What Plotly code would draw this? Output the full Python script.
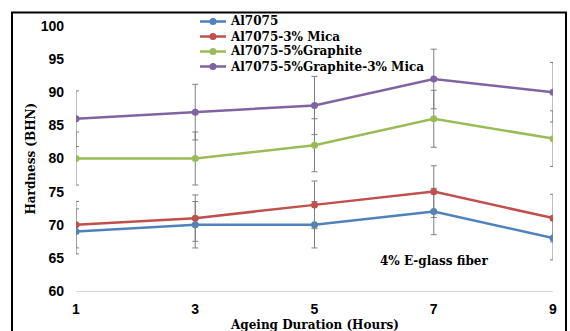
import plotly.graph_objects as go

hours = [1, 3, 5, 7, 9]
series_names = ["Al7075", "Al7075-3% Mica", "Al7075-5%Graphite", "Al7075-5%Graphite-3% Mica"]
al7075 = [69, 70, 70, 72, 68]
al7075_mica = [70, 71, 73, 75, 71]
al7075_graphite = [80, 80, 82, 86, 83]
al7075_graphite_mica = [86, 87, 88, 92, 90]
err_al7075 = [3.4, 3.5, 3.5, 3.5, 3.3]
err_mica = [3.5, 3.5, 3.6, 3.9, 3.6]
err_graphite = [4.0, 4.0, 4.0, 4.3, 4.2]
err_graphite_mica = [4.2, 4.2, 4.4, 4.5, 4.5]
colors = ["#4f81bd", "#c0504d", "#9bbb59", "#8064a2"]

values = [al7075, al7075_mica, al7075_graphite, al7075_graphite_mica]
errors = [err_al7075, err_mica, err_graphite, err_graphite_mica]

W, H = 570, 331
L, R, T, B = 76, 17, 26, 40
PW, PH = W - L - R, H - T - B


def px(x):
    return (x - L) / PW


def py(y):
    return (H - B - y) / PH


fig = go.Figure()
for name, vals, errs, col in zip(series_names, values, errors, colors):
    fig.add_trace(go.Scatter(
        x=hours, y=vals, name=name, mode="lines+markers",
        line=dict(color=col, width=2.5),
        marker=dict(color=col, size=7),
        error_y=dict(type="data", array=errs, visible=True,
                     color="#7f7f7f", thickness=1, width=3),
        showlegend=False,
    ))

serif = "DejaVu Serif"
tfont = dict(family=serif, size=12, color="black", weight="bold")

# manual compact legend
for i, (name, col) in enumerate(zip(series_names, colors)):
    yrow = py(21.5 + i * 15)
    fig.add_shape(type="line", xref="paper", yref="paper",
                  x0=px(200), x1=px(226), y0=yrow, y1=yrow,
                  line=dict(color=col, width=2.5))
    fig.add_shape(type="circle", xref="paper", yref="paper",
                  xsizemode="pixel", ysizemode="pixel",
                  xanchor=px(213), yanchor=yrow, x0=-3.5, x1=3.5, y0=-3.5, y1=3.5,
                  line=dict(color=col, width=0), fillcolor=col)
    fig.add_annotation(x=px(228), y=yrow, xref="paper", yref="paper", text=name,
                       showarrow=False, font=tfont, xanchor="left", yanchor="middle")

fig.add_annotation(x=7, y=64.5, xref="x", yref="y", text="4% E-glass fiber",
                   showarrow=False, font=tfont)
fig.add_annotation(x=0.5, y=-0.128, xref="paper", yref="paper", text="Ageing Duration (Hours)",
                   showarrow=False, font=tfont, xanchor="center", yanchor="middle")
fig.add_annotation(x=-0.0964, y=0.5, xref="paper", yref="paper", text="Hardness (BHN)",
                   showarrow=False, font=tfont, textangle=-90, xanchor="center", yanchor="middle")

fig.add_shape(type="rect", xref="paper", yref="paper",
              x0=px(12), x1=px(566), y0=py(345), y1=py(12.5),
              line=dict(color="black", width=2), fillcolor="rgba(0,0,0,0)", layer="above")

fig.update_layout(
    width=W, height=H,
    margin=dict(l=L, r=R, t=T, b=B),
    paper_bgcolor="white", plot_bgcolor="white",
    showlegend=False,
    xaxis=dict(range=[1, 9], tickvals=hours, ticktext=[str(h) for h in hours],
               showgrid=False, zeroline=False, showline=True, linecolor="#d9d9d9", linewidth=1,
               ticks="", ticklabelstandoff=5, automargin=False,
               tickfont=dict(family="Liberation Sans", size=14, color="black", weight="bold")),
    yaxis=dict(range=[60, 100], dtick=5, tick0=60,
               showgrid=False, zeroline=False, showline=False, ticks="",
               ticklabelstandoff=11, automargin=False,
               tickfont=dict(family="Liberation Sans", size=14, color="black", weight="bold")),
)

fig.write_html("out.html")
